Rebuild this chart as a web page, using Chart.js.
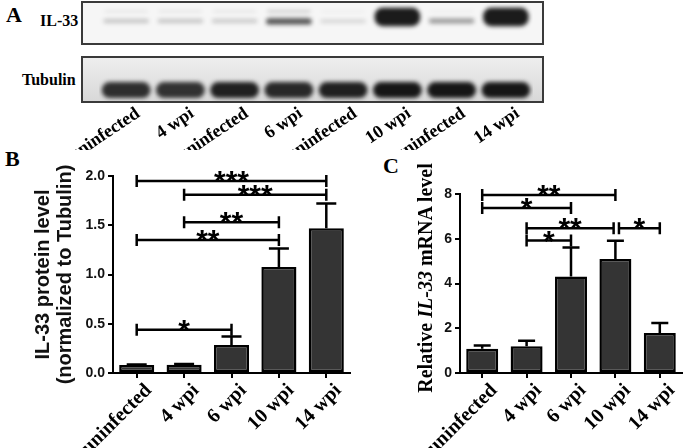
<!DOCTYPE html>
<html>
<head>
<meta charset="utf-8">
<script src="https://cdn.jsdelivr.net/npm/chart.js@4.4.0/dist/chart.umd.min.js"></script>
<style>
body { margin: 0; background: #fff; }
#fig { position: relative; width: 685px; height: 448px; overflow: hidden; background: #fff; font-family: "Liberation Serif", "Times New Roman", serif; color: #000; }
.lbl { position: absolute; font-weight: bold; white-space: nowrap; }
.box { position: absolute; border: 2px solid #3a3a3a; box-sizing: border-box; }
canvas { position: absolute; }
</style>
</head>
<body>
<div id="fig">
  <div class="lbl" style="left:6px;top:2px;font-size:22px">A</div>
  <div class="lbl" style="left:40px;top:12px;font-size:16px">IL-33</div>
  <div class="lbl" style="left:22px;top:71px;font-size:16px">Tubulin</div>
  <div class="box" style="left:81px;top:1px;width:463px;height:44px;background:#f6f6f6"></div>
  <div class="box" style="left:81px;top:56px;width:463px;height:47px;background:linear-gradient(#eeeeee,#d8d8d8)"></div>
  <canvas id="il33" width="434" height="40" style="left:99px;top:3px"></canvas>
  <canvas id="tub" width="503" height="92" style="left:40px;top:58px"></canvas>

  <div class="lbl" style="left:5px;top:146px;font-size:22px">B</div>
  <canvas id="chartB" width="360" height="308" style="left:0;top:140px"></canvas>

  <div class="lbl" style="left:383px;top:153px;font-size:22px">C</div>
  <div class="lbl" style="left:295px;top:266px;width:260px;height:24px;line-height:24px;text-align:center;font-size:20px;transform:rotate(-90deg)">Relative <i>IL-33</i> mRNA level</div>
  <canvas id="chartC" width="325" height="308" style="left:360px;top:140px"></canvas>
</div>
<script>
Chart.defaults.font.family = '"Liberation Sans", Arial, sans-serif';
Chart.defaults.color = '#111';

// blot lanes
const lanes = ['uninfected', '4 wpi', 'uninfected', '6 wpi', 'uninfected', '10 wpi', 'uninfected', '14 wpi'];
const ilBandLow = [0.50, 0.50, 0.50, 0.46, 0.50, 0.42, 0.49, 0.42];
const ilBandHigh = [0.60, 0.60, 0.60, 0.62, 0.59, 0.88, 0.61, 0.88];
const ilBandDark = [0.22, 0.22, 0.2, 0.7, 0.15, 0.95, 0.4, 0.95];
const ilUpperDark = [0.08, 0.08, 0.08, 0.22, 0.04, 0, 0.04, 0];
const tubDark = [0.85, 0.83, 0.92, 0.88, 0.92, 0.97, 0.97, 0.97];

// quantification
const groups = ['uninfected', '4 wpi', '6 wpi', '10 wpi', '14 wpi'];
const proteinMean = [0.08, 0.085, 0.285, 1.075, 1.47];
const proteinErr = [0.006, 0.006, 0.085, 0.19, 0.25];
const proteinTicks = [0, 0.5, 1.0, 1.5, 2.0];
const proteinSig = [[0, 4, 1.95, '***'], [1, 4, 1.81, '***'], [1, 3, 1.53, '**'], [0, 3, 1.35, '**'], [0, 2, 0.44, '*']];
const mrnaMean = [1.08, 1.19, 4.31, 5.1, 1.79];
const mrnaErr = [0.15, 0.25, 1.3, 0.81, 0.44];
const mrnaTicks = [0, 2, 4, 6, 8];
const mrnaSig = [[0, 3, 7.96, '**'], [0, 2, 7.37, '*'], [1, 2.96, 6.47, '**'], [3.08, 4, 6.47, '*'], [1, 2, 5.92, '*']];

const blur = {
  id: 'blur',
  beforeDatasetsDraw(chart) { chart.ctx.save(); chart.ctx.filter = 'blur(2px)'; },
  afterDatasetsDraw(chart) { chart.ctx.restore(); }
};

function band(low, high, dark, pct) {
  return {
    data: low.map((v, i) => [v, high[i]]),
    backgroundColor: dark.map(a => `rgba(15,15,15,${a})`),
    borderWidth: 0, borderSkipped: false, borderRadius: 8,
    categoryPercentage: 1, barPercentage: pct, grouped: false
  };
}

new Chart(document.getElementById('il33'), {
  type: 'bar',
  data: {
    labels: lanes,
    datasets: [
      band(ilBandLow, ilBandHigh, ilBandDark, 0.84),
      band(lanes.map(() => 0.76), lanes.map(() => 0.82), ilUpperDark, 0.8)
    ]
  },
  options: {
    responsive: false, animation: false, devicePixelRatio: 1,
    layout: { padding: 0 },
    plugins: { legend: { display: false }, tooltip: { enabled: false } },
    scales: { x: { display: false }, y: { display: false, min: 0, max: 1 } }
  },
  plugins: [blur]
});

new Chart(document.getElementById('tub'), {
  type: 'bar',
  data: {
    labels: lanes,
    datasets: [band(lanes.map(() => 0.07), lanes.map(() => 0.44), tubDark, 0.9)]
  },
  options: {
    responsive: false, animation: false, devicePixelRatio: 1,
    layout: { padding: { left: 59, top: 0, right: 10, bottom: 0 } },
    plugins: { legend: { display: false }, tooltip: { enabled: false } },
    scales: {
      x: {
        grid: { display: false }, border: { display: false },
        ticks: { autoSkip: false, minRotation: 34, maxRotation: 34, padding: -6, labelOffset: 12, color: '#000',
                 font: { family: '"Liberation Serif", serif', weight: 'bold', size: 18 } },
        afterFit: s => { s.height = 49; s.paddingLeft = 0; s.paddingRight = 0; }
      },
      y: { display: false, min: 0, max: 1 }
    }
  },
  plugins: [blur]
});

function sigPlugin(mean, err, cap, sig) {
  return {
    id: 'sig',
    afterDatasetsDraw(chart) {
      const { ctx, scales: { x, y } } = chart;
      const meta = chart.getDatasetMeta(0);
      ctx.save();
      ctx.strokeStyle = '#000';
      ctx.fillStyle = '#000';
      ctx.lineWidth = 2.5;
      err.forEach((e, i) => {
        const b = meta.data[i];
        const top = y.getPixelForValue(mean[i] + e);
        ctx.beginPath();
        ctx.moveTo(b.x, b.y);
        ctx.lineTo(b.x, top);
        ctx.moveTo(b.x - cap / 2, top);
        ctx.lineTo(b.x + cap / 2, top);
        ctx.stroke();
      });
      ctx.font = 'bold 30px "Liberation Sans", Arial, sans-serif';
      ctx.textAlign = 'center';
      ctx.textBaseline = 'alphabetic';
      sig.forEach(([a, b, v, s]) => {
        const x0 = x.getPixelForValue(a), x1 = x.getPixelForValue(b), yy = y.getPixelForValue(v);
        ctx.beginPath();
        ctx.moveTo(x0, yy); ctx.lineTo(x1, yy);
        ctx.moveTo(x0, yy - 6); ctx.lineTo(x0, yy + 6);
        ctx.moveTo(x1, yy - 6); ctx.lineTo(x1, yy + 6);
        ctx.stroke();
        ctx.fillText(s, (x0 + x1) / 2, yy + 10);
      });
      ctx.restore();
    }
  };
}

function barChart(id, mean, err, ticks, sig, cap, barPct, yTitle, yWidth, padTop, padRight) {
  return new Chart(document.getElementById(id), {
    type: 'bar',
    data: {
      labels: groups,
      datasets: [{
        data: mean,
        backgroundColor: '#343434',
        borderColor: '#000',
        borderWidth: 2.5,
        borderSkipped: false,
        categoryPercentage: 1,
        barPercentage: barPct
      }]
    },
    options: {
      responsive: false, animation: false, devicePixelRatio: 1,
      layout: { padding: { top: padTop, right: padRight, left: 0, bottom: 0 } },
      plugins: { legend: { display: false }, tooltip: { enabled: false } },
      scales: {
        x: {
          offset: true,
          grid: { display: true, drawOnChartArea: false, drawTicks: true, tickLength: 5, color: '#000', lineWidth: 2, offset: false },
          border: { display: true, color: '#000', width: 2 },
          ticks: { autoSkip: false, minRotation: 45, maxRotation: 45, padding: 1, labelOffset: 12, color: '#000',
                   font: { family: '"Liberation Serif", serif', weight: 'bold', size: 20 } },
          afterFit: s => { s.height = 75; s.paddingLeft = 0; s.paddingRight = 0; }
        },
        y: {
          min: ticks[0], max: ticks[ticks.length - 1],
          afterBuildTicks: s => { s.ticks = ticks.map(v => ({ value: v })); },
          grid: { display: true, drawOnChartArea: false, drawTicks: true, tickLength: 5, color: '#000', lineWidth: 2 },
          border: { display: true, color: '#000', width: 2 },
          ticks: { padding: 3, color: '#111', font: { weight: 'bold', size: 14 },
                   callback: v => (ticks[ticks.length - 1] <= 2 ? v.toFixed(1) : v) },
          title: yTitle,
          afterFit: s => { s.width = yWidth; }
        }
      }
    },
    plugins: [sigPlugin(mean, err, cap, sig)]
  });
}

barChart('chartB', proteinMean, proteinErr, proteinTicks, proteinSig, 20, 0.74,
  { display: true, text: ['IL-33 protein level', '(normalized to Tubulin)'], color: '#111',
    font: { weight: 'bold', size: 20, lineHeight: 1.1 }, padding: { top: 32, bottom: 0 } },
  113, 36, 10);

barChart('chartC', mrnaMean, mrnaErr, mrnaTicks, mrnaSig, 17, 0.72,
  { display: false }, 100, 54, 3);
</script>
</body>
</html>
